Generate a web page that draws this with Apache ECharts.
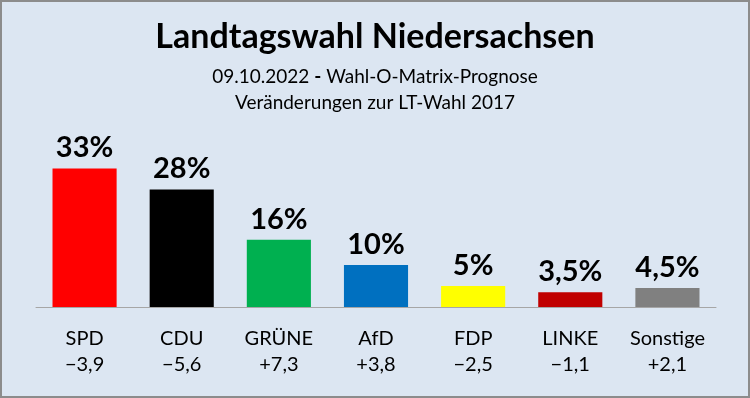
<!DOCTYPE html>
<html lang="de">
<head>
    <meta charset="UTF-8">
    <title>Landtagswahl Niedersachsen</title>
    <script src="https://cdn.jsdelivr.net/npm/echarts@6/dist/echarts.min.js"></script>
    <style>
        html, body { margin: 0; padding: 0; }
        #main { width: 750px; height: 398px; box-sizing: border-box; border: 2px solid #8c8c8c; background: #dce6f2; }
    </style>
</head>
<body>
<div id="main"></div>
<script type="text/javascript">

    // Parteien, Prognose in Prozent, Veraenderung zur LT-Wahl 2017
    var parties = ['SPD', 'CDU', 'GRÜNE', 'AfD', 'FDP', 'LINKE', 'Sonstige'];
    var shares = [33, 28, 16, 10, 5, 3.5, 4.5];
    var shareLabels = ['33%', '28%', '16%', '10%', '5%', '3,5%', '4,5%'];
    var changes = ['−3,9', '−5,6', '+7,3', '+3,8', '−2,5', '−1,1', '+2,1'];
    var colors = ['#ff0000', '#000000', '#00b050', '#0070c0', '#ffff00', '#c00000', '#808080'];

    var font = 'Lato, "Noto Sans", sans-serif';
    var myChart = echarts.init(document.getElementById('main'));

    var barData = [];
    for (var i = 0; i < shares.length; i++) {
        barData.push({ value: shares[i], itemStyle: { color: colors[i] } });
    }

    option = {
        backgroundColor: '#dce6f2',
        animation: false,
        title: [
            {
                text: 'Landtagswahl Niedersachsen',
                left: 'center',
                top: 13,
                textStyle: { fontFamily: font, fontSize: 34, fontWeight: 'bold', color: '#000' }
            },
            {
                text: '{n|09.10.2022 }{b|-}{n| Wahl-O-Matrix-Prognose}\n{n|Veränderungen zur LT-Wahl 2017}',
                left: 'center',
                top: 57,
                textStyle: {
                    fontWeight: 'normal',
                    rich: {
                        n: { fontFamily: font, fontSize: 19, color: '#000', fontWeight: 'normal', lineHeight: 26 },
                        b: { fontFamily: font, fontSize: 19, color: '#000', fontWeight: 'bold', lineHeight: 26 }
                    },
                    align: 'center'
                }
            }
        ],
        grid: {
            left: 34,
            right: 32,
            top: 137,
            bottom: 89
        },
        xAxis: {
            type: 'category',
            data: parties,
            axisLine: { lineStyle: { color: '#a6a6a6', width: 1 } },
            axisTick: { show: false },
            axisLabel: {
                interval: 0,
                margin: 19,
                fontFamily: font,
                fontSize: 20,
                color: '#000',
                lineHeight: 26,
                formatter: function (v, idx) {
                    return v + '\n' + changes[idx];
                }
            }
        },
        yAxis: {
            type: 'value',
            min: 0,
            max: 40,
            show: false,
            splitLine: { show: false }
        },
        series: [
            {
                type: 'bar',
                data: barData,
                barWidth: '66%',
                label: {
                    show: true,
                    position: 'top',
                    distance: 6,
                    fontFamily: font,
                    fontSize: 29,
                    fontWeight: 'bold',
                    color: '#000',
                    formatter: function (p) {
                        return shareLabels[p.dataIndex];
                    }
                }
            }
        ]
    };
    myChart.setOption(option);

</script>
</body>
</html>
